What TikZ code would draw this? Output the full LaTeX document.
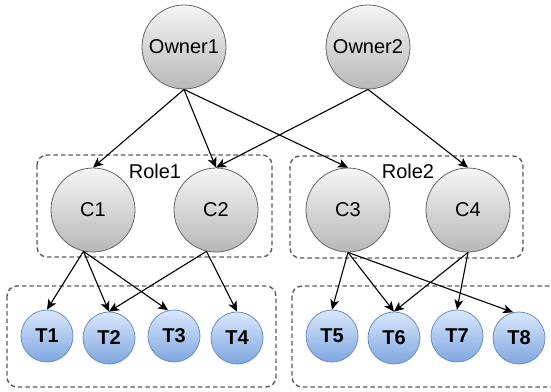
\documentclass[tikz,border=0pt]{standalone}
\usepackage{fontspec}
\setmainfont{Liberation Sans}
\usetikzlibrary{arrows.meta}
\definecolor{gtop}{HTML}{F5F5F5}
\definecolor{gbot}{HTML}{B8B8B8}
\definecolor{gline}{HTML}{666666}
\definecolor{dline}{HTML}{5A5A5A}
\definecolor{btop}{HTML}{DAE8FC}
\definecolor{bbot}{HTML}{7EA6E0}
\definecolor{bline}{HTML}{6C8EBF}
\begin{document}
\begin{tikzpicture}[x=1pt,y=-1pt,
  gnode/.style={circle,draw=gline,line width=0.8pt,top color=gtop,bottom color=gbot,
    minimum size=84pt,inner sep=0pt,font=\fontsize{20}{24}\selectfont},
  tnode/.style={circle,draw=bline,line width=0.8pt,top color=btop,bottom color=bbot,
    minimum size=52pt,inner sep=0pt,font=\fontsize{20}{24}\selectfont\bfseries},
  grp/.style={draw=dline,dash pattern=on 4.5pt off 3pt,line width=1.4pt,rounded corners=10pt},
  lbl/.style={font=\fontsize{20}{24}\selectfont,inner sep=0pt},
  arr/.style={-{Stealth[length=10pt,width=9pt,inset=2.5pt]},line width=1.1pt}]
\clip (0,0) rectangle (551,391);
% group boxes
\draw[grp] (37,155) rectangle (272,257);
\draw[grp] (290,156) rectangle (523,258);
\draw[grp] (7,286) rectangle (276,387);
\draw[grp] (292,286) rectangle (575,387);
\node[lbl] (role1) at (155,171) {Role1};
\node[lbl] (role2) at (408,171) {Role2};
% nodes
\node[gnode] (O1) at (184,47) {Owner1};
\node[gnode] (O2) at (368,47) {Owner2};
\node[gnode] (C1) at (93,210) {C1};
\node[gnode] (C2) at (216,210) {C2};
\node[gnode] (C3) at (348,210) {C3};
\node[gnode] (C4) at (468,210) {C4};
\node[tnode] (T1) at (47,336) {T1};
\node[tnode] (T2) at (109,338) {T2};
\node[tnode] (T3) at (174,336) {T3};
\node[tnode] (T4) at (237,338) {T4};
\node[tnode] (T5) at (332,336) {T5};
\node[tnode] (T6) at (394,338) {T6};
\node[tnode] (T7) at (457,336) {T7};
\node[tnode] (T8) at (519,338) {T8};
% connectors
\draw[arr] (O1.south) -- (C1.north);
\draw[arr] (O1.south) -- (C2.north);
\draw[arr] (O1.south) -- (C3.north);
\draw[arr] (O2.south) -- (C2.north);
\draw[arr] (O2.south) -- (C4.north);
\draw[arr] (C1.-103) -- (T1.north);
\draw[arr] (C1.-103) -- (T2.north);
\draw[arr] (C1.-103) -- (T3.103);
\draw[arr] (C2.-103) -- (T2.north);
\draw[arr] (C2.-103) -- (T4.north);
\draw[arr] (C3.south) -- (T5.north);
\draw[arr] (C3.south) -- (T6.north);
\draw[arr] (C3.south) -- (T8.103);
\draw[arr] (C4.south) -- (T6.north);
\draw[arr] (C4.south) -- (T7.north);
\end{tikzpicture}
\end{document}
